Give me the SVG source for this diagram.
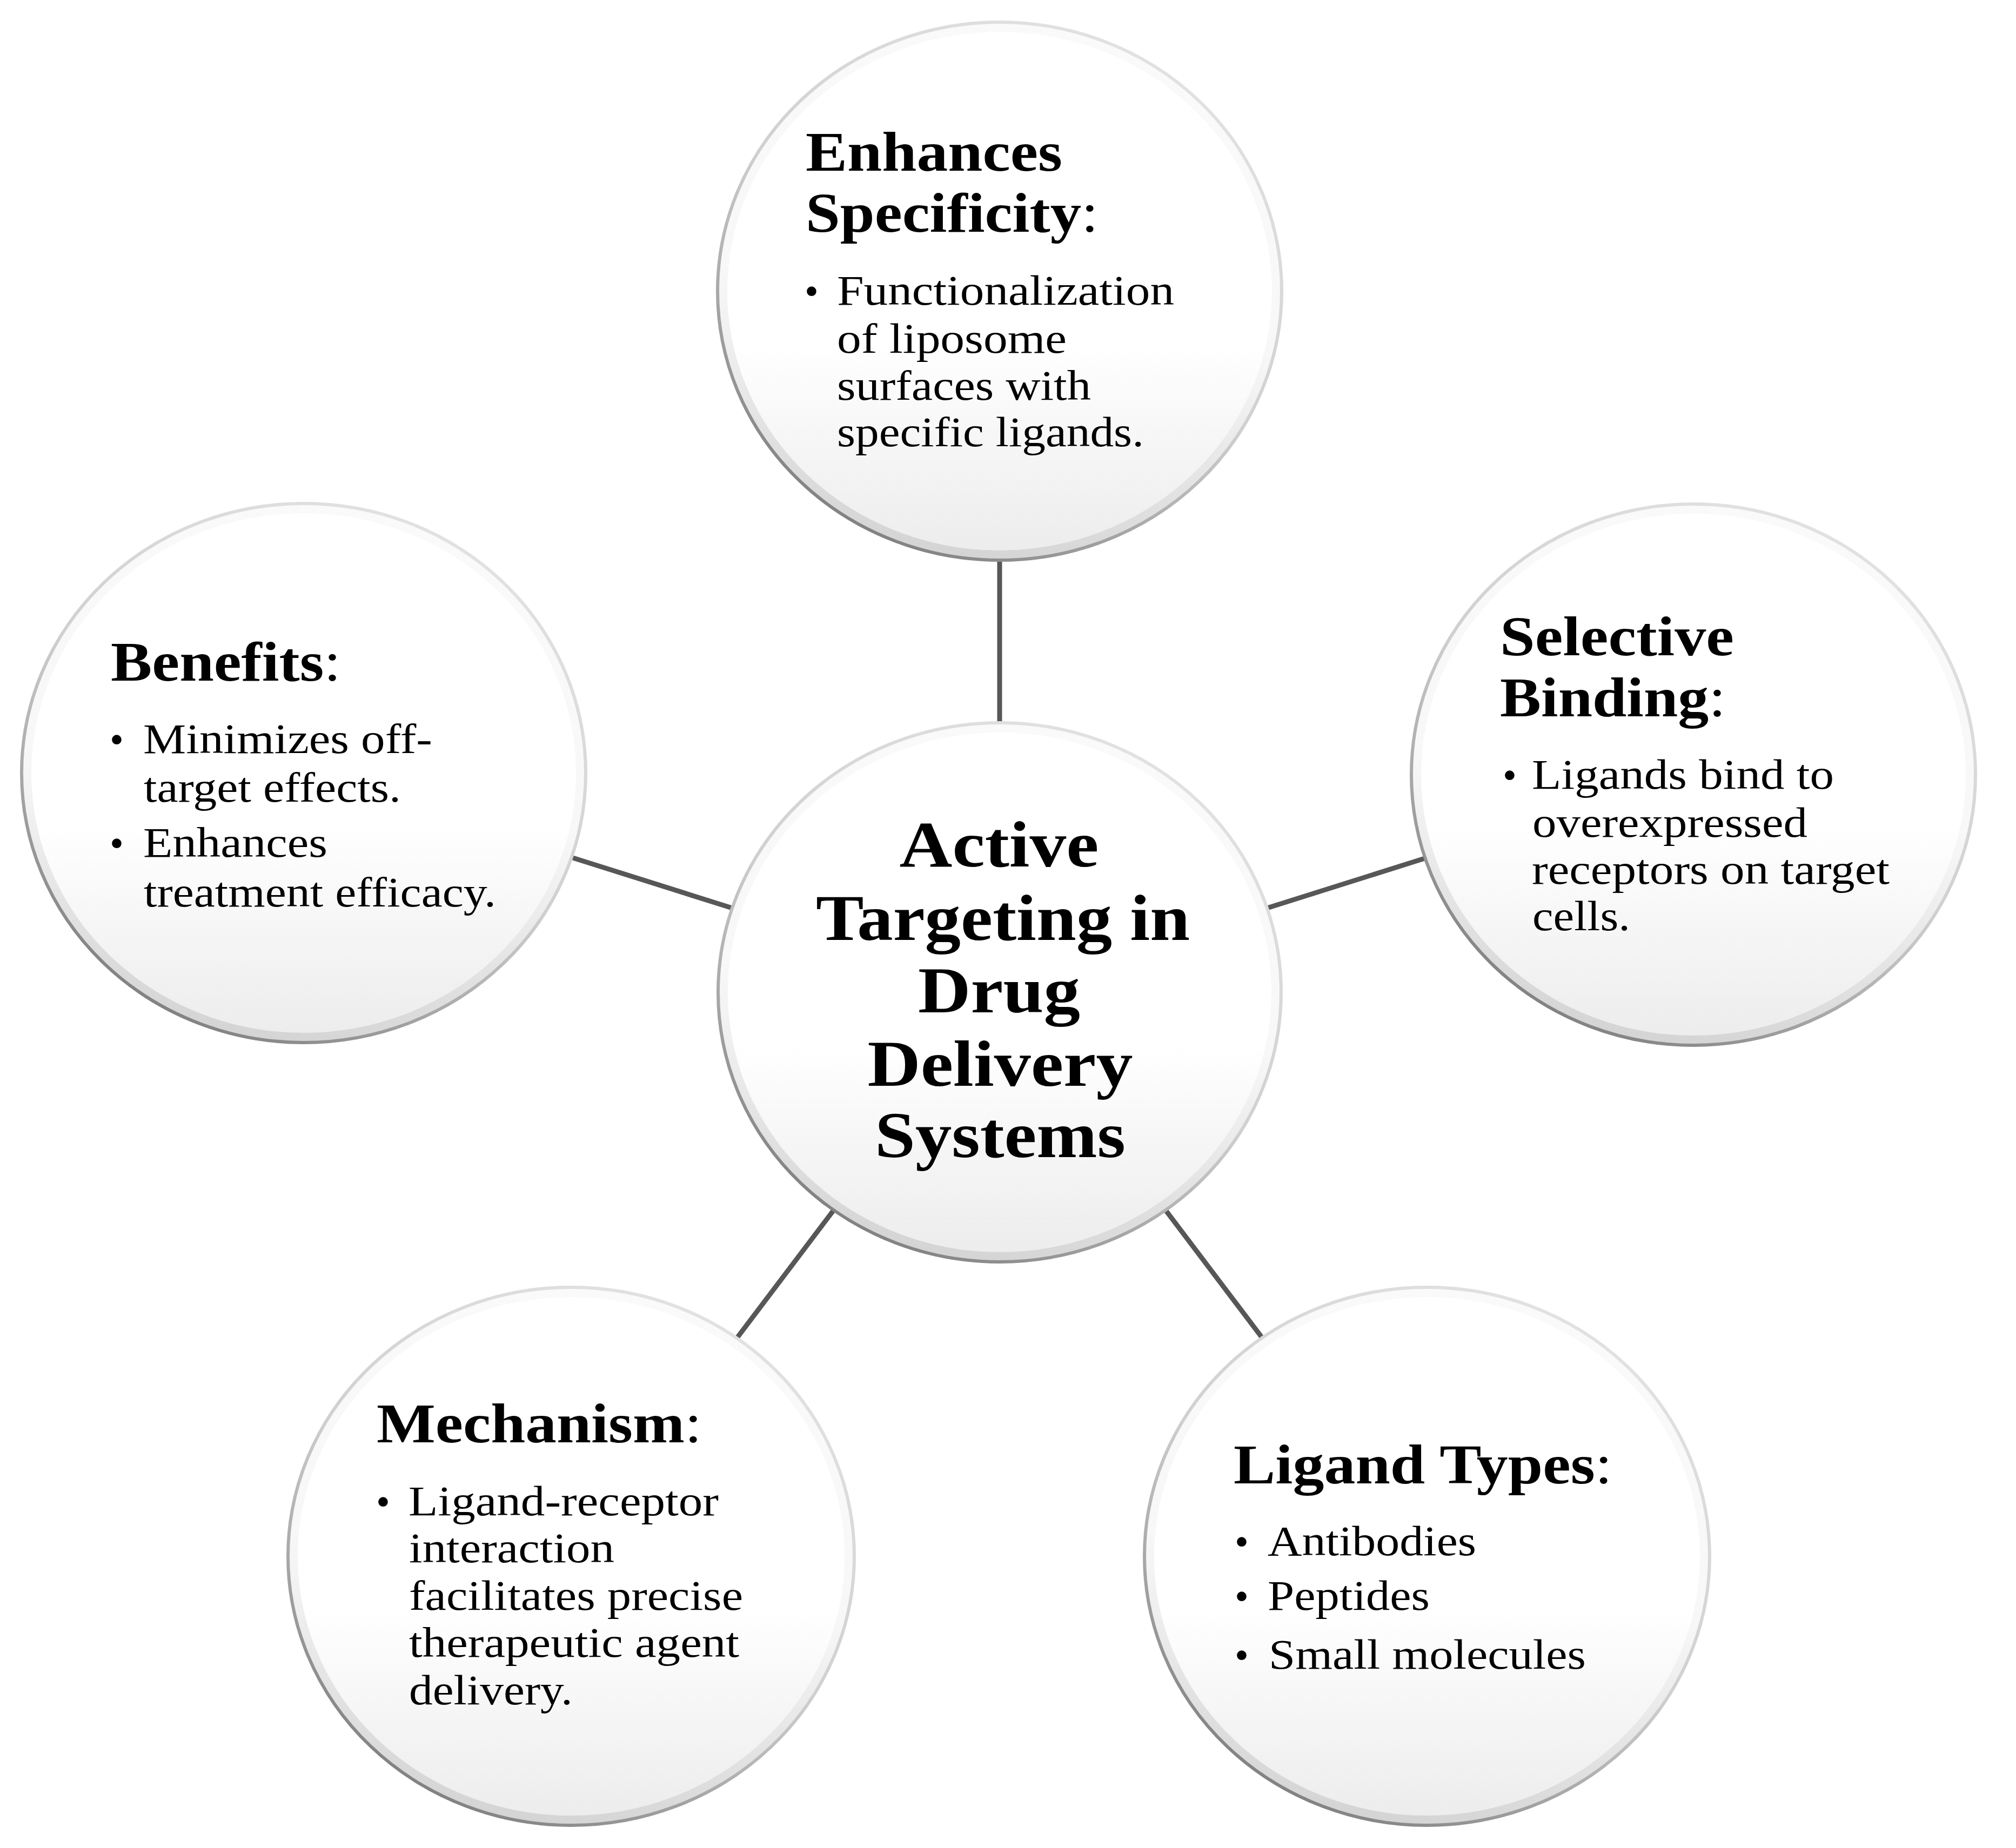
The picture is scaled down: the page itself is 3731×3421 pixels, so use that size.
<svg xmlns="http://www.w3.org/2000/svg" width="3731" height="3421" viewBox="0 0 3731 3421">
<style>
.disc{fill:url(#fillG);stroke:none}
.band{fill:none;stroke:url(#bandG);stroke-width:16}
.rim{fill:none;stroke:url(#rimG);stroke-width:6}
.conn{stroke:#575757;stroke-width:9;fill:none}
.head{font-family:"Liberation Serif","Times New Roman",serif;font-weight:bold;font-size:104px;fill:#000}
.colon{font-weight:normal}
.body{font-family:"Liberation Serif","Times New Roman",serif;font-size:78px;fill:#000}
.bul{font-family:"Liberation Serif","Times New Roman",serif;font-size:74px;fill:#000;text-anchor:middle}
.title{font-family:"Liberation Serif","Times New Roman",serif;font-weight:bold;font-size:120px;fill:#000;text-anchor:middle}
</style>
<defs>
<linearGradient id="fillG" x1="0" y1="0" x2="0" y2="1">
<stop offset="0" stop-color="#ffffff"/>
<stop offset="0.6" stop-color="#ffffff"/>
<stop offset="0.82" stop-color="#f4f4f4"/>
<stop offset="1" stop-color="#ececec"/>
</linearGradient>
<linearGradient id="rimG" x1="0.8" y1="0" x2="0.2" y2="1">
<stop offset="0" stop-color="#e4e4e4"/>
<stop offset="0.5" stop-color="#d0d0d0"/>
<stop offset="1" stop-color="#767676"/>
</linearGradient>
<linearGradient id="bandG" x1="0.6" y1="0" x2="0.4" y2="1">
<stop offset="0" stop-color="#eeeeee" stop-opacity="0.3"/>
<stop offset="0.55" stop-color="#e6e6e6" stop-opacity="0.3"/>
<stop offset="1" stop-color="#d4d4d4" stop-opacity="1"/>
</linearGradient>
</defs>
<rect width="3731" height="3421" fill="#ffffff"/>
<g id="connectors">
<line class="conn" x1="1850" y1="1038" x2="1850" y2="1338"/>
<line class="conn" x1="1057" y1="1587" x2="1355" y2="1681"/>
<line class="conn" x1="2643" y1="1587" x2="2345" y2="1681"/>
<line class="conn" x1="1543" y1="2240" x2="1363" y2="2478"/>
<line class="conn" x1="2157" y1="2240" x2="2337" y2="2478"/>
</g>
<g id="node-center">
<ellipse class="disc" cx="1850" cy="1837" rx="521" ry="499"/>
<ellipse class="band" cx="1850" cy="1837" rx="511" ry="489"/>
<ellipse class="rim" cx="1850" cy="1837" rx="521" ry="499"/>
<text class="title" x="1849" y="1604" textLength="369" lengthAdjust="spacingAndGlyphs">Active</text>
<text class="title" x="1856" y="1740" textLength="692" lengthAdjust="spacingAndGlyphs">Targeting in</text>
<text class="title" x="1849" y="1874" textLength="300" lengthAdjust="spacingAndGlyphs">Drug</text>
<text class="title" x="1851" y="2010" textLength="491" lengthAdjust="spacingAndGlyphs">Delivery</text>
<text class="title" x="1851" y="2142" textLength="464" lengthAdjust="spacingAndGlyphs">Systems</text>
</g>
<g id="node-specificity">
<ellipse class="disc" cx="1850" cy="539" rx="522" ry="498"/>
<ellipse class="band" cx="1850" cy="539" rx="512" ry="488"/>
<ellipse class="rim" cx="1850" cy="539" rx="522" ry="498"/>
<text class="head" x="1491" y="316" textLength="475" lengthAdjust="spacingAndGlyphs">Enhances</text>
<text class="head" x="1491" y="429" textLength="542" lengthAdjust="spacingAndGlyphs">Specificity<tspan class="colon">:</tspan></text>
<text class="bul" x="1502" y="564">•</text>
<text class="body" x="1549" y="564" textLength="624" lengthAdjust="spacingAndGlyphs">Functionalization</text>
<text class="body" x="1549" y="653" textLength="425" lengthAdjust="spacingAndGlyphs">of liposome</text>
<text class="body" x="1549" y="740" textLength="470" lengthAdjust="spacingAndGlyphs">surfaces with</text>
<text class="body" x="1549" y="826" textLength="568" lengthAdjust="spacingAndGlyphs">specific ligands.</text>
</g>
<g id="node-benefits">
<ellipse class="disc" cx="562" cy="1431" rx="522" ry="499"/>
<ellipse class="band" cx="562" cy="1431" rx="512" ry="489"/>
<ellipse class="rim" cx="562" cy="1431" rx="522" ry="499"/>
<text class="head" x="205" y="1260" textLength="426" lengthAdjust="spacingAndGlyphs">Benefits<tspan class="colon">:</tspan></text>
<text class="bul" x="216" y="1394">•</text>
<text class="body" x="265" y="1394" textLength="535" lengthAdjust="spacingAndGlyphs">Minimizes off-</text>
<text class="body" x="266" y="1484" textLength="476" lengthAdjust="spacingAndGlyphs">target effects.</text>
<text class="bul" x="216" y="1586">•</text>
<text class="body" x="265" y="1586" textLength="341" lengthAdjust="spacingAndGlyphs">Enhances</text>
<text class="body" x="266" y="1678" textLength="652" lengthAdjust="spacingAndGlyphs">treatment efficacy.</text>
</g>
<g id="node-binding">
<ellipse class="disc" cx="3134" cy="1434" rx="522" ry="501"/>
<ellipse class="band" cx="3134" cy="1434" rx="512" ry="491"/>
<ellipse class="rim" cx="3134" cy="1434" rx="522" ry="501"/>
<text class="head" x="2776" y="1213" textLength="433" lengthAdjust="spacingAndGlyphs">Selective</text>
<text class="head" x="2776" y="1326" textLength="418" lengthAdjust="spacingAndGlyphs">Binding<tspan class="colon">:</tspan></text>
<text class="bul" x="2794" y="1460">•</text>
<text class="body" x="2835" y="1460" textLength="559" lengthAdjust="spacingAndGlyphs">Ligands bind to</text>
<text class="body" x="2836" y="1549" textLength="509" lengthAdjust="spacingAndGlyphs">overexpressed</text>
<text class="body" x="2835" y="1636" textLength="662" lengthAdjust="spacingAndGlyphs">receptors on target</text>
<text class="body" x="2836" y="1722" textLength="181" lengthAdjust="spacingAndGlyphs">cells.</text>
</g>
<g id="node-mechanism">
<ellipse class="disc" cx="1057" cy="2881" rx="524" ry="498"/>
<ellipse class="band" cx="1057" cy="2881" rx="514" ry="488"/>
<ellipse class="rim" cx="1057" cy="2881" rx="524" ry="498"/>
<text class="head" x="697" y="2670" textLength="602" lengthAdjust="spacingAndGlyphs">Mechanism<tspan class="colon">:</tspan></text>
<text class="bul" x="709" y="2805">•</text>
<text class="body" x="756" y="2805" textLength="574" lengthAdjust="spacingAndGlyphs">Ligand-receptor</text>
<text class="body" x="757" y="2892" textLength="380" lengthAdjust="spacingAndGlyphs">interaction</text>
<text class="body" x="757" y="2980" textLength="618" lengthAdjust="spacingAndGlyphs">facilitates precise</text>
<text class="body" x="757" y="3067" textLength="611" lengthAdjust="spacingAndGlyphs">therapeutic agent</text>
<text class="body" x="757" y="3155" textLength="303" lengthAdjust="spacingAndGlyphs">delivery.</text>
</g>
<g id="node-ligand-types">
<ellipse class="disc" cx="2641" cy="2881" rx="523" ry="498"/>
<ellipse class="band" cx="2641" cy="2881" rx="513" ry="488"/>
<ellipse class="rim" cx="2641" cy="2881" rx="523" ry="498"/>
<text class="head" x="2283" y="2746" textLength="701" lengthAdjust="spacingAndGlyphs">Ligand Types<tspan class="colon">:</tspan></text>
<text class="bul" x="2298" y="2879">•</text>
<text class="body" x="2346" y="2879" textLength="386" lengthAdjust="spacingAndGlyphs">Antibodies</text>
<text class="bul" x="2298" y="2980">•</text>
<text class="body" x="2346" y="2980" textLength="300" lengthAdjust="spacingAndGlyphs">Peptides</text>
<text class="bul" x="2298" y="3089">•</text>
<text class="body" x="2348" y="3089" textLength="587" lengthAdjust="spacingAndGlyphs">Small molecules</text>
</g>
</svg>
